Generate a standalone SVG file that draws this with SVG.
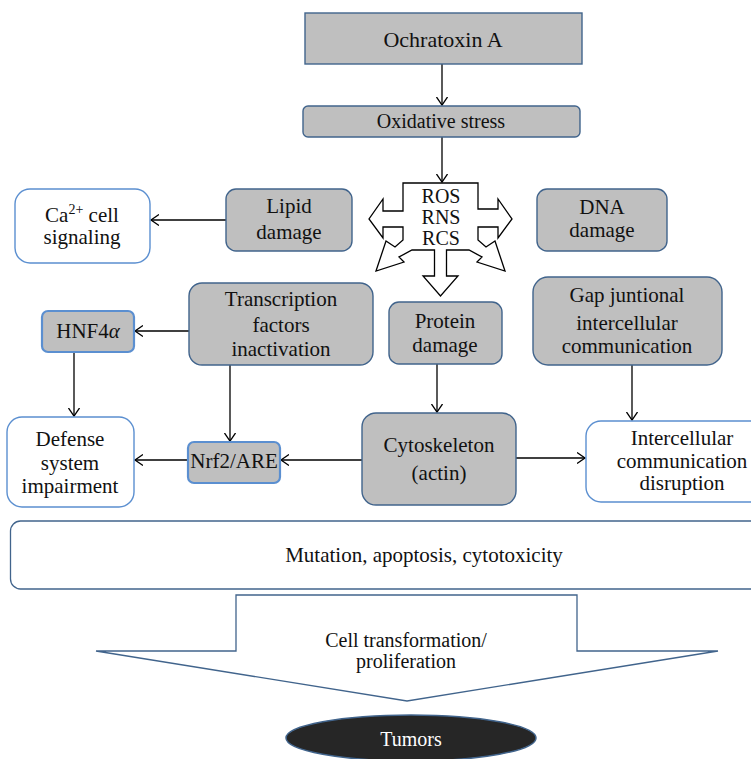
<svg xmlns="http://www.w3.org/2000/svg" width="751" height="759" viewBox="0 0 751 759" font-family="'Liberation Serif', 'Times New Roman', serif">
<defs>
<marker id="ah" markerUnits="userSpaceOnUse" markerWidth="10" markerHeight="12" refX="8" refY="6" orient="auto">
<path d="M0,0.5 L8,6 L0,11.5" fill="none" stroke="#000" stroke-width="1.3"/>
</marker>
<style>
text{font-family:'Liberation Serif','Times New Roman',serif;font-size:21px;fill:#111;text-anchor:middle}
.g{fill:#bfbfbf;stroke:#41648c;stroke-width:1.4}
.w{fill:#fff;stroke:#5b8fd0;stroke-width:1.4}
.gl{fill:#bfbfbf;stroke:#5b8fd0;stroke-width:2.2}
.c{fill:none;stroke:#000;stroke-width:1.3;marker-end:url(#ah)}
</style>
</defs>
<rect width="751" height="759" fill="#fff"/>

<g id="connectors">
<line class="c" x1="442" y1="64" x2="442" y2="105"/>
<line class="c" x1="442" y1="137" x2="442" y2="182"/>
<line class="c" x1="226" y1="220" x2="151" y2="220"/>
<line class="c" x1="189" y1="331" x2="135" y2="331"/>
<line class="c" x1="74" y1="352" x2="74" y2="416"/>
<line class="c" x1="230" y1="365" x2="230" y2="441"/>
<line class="c" x1="437" y1="364" x2="437" y2="412"/>
<line class="c" x1="632" y1="365" x2="632" y2="420"/>
<line class="c" x1="188" y1="460" x2="135" y2="460"/>
<line class="c" x1="362" y1="460" x2="281" y2="460"/>
<line class="c" x1="516" y1="458" x2="585" y2="458"/>
</g>

<g id="ochratoxin">
<rect class="g" x="305" y="13" width="277" height="51"/>
<text x="443" y="47" font-family="Liberation Serif, serif" style="font-size:22px">Ochratoxin A</text>
</g>

<g id="oxidative">
<rect class="g" x="303" y="106" width="277" height="31" rx="5"/>
<text x="441" y="128" font-family="Liberation Serif, serif" style="font-size:20px">Oxidative stress</text>
</g>

<g id="ros">
<polygon points="403,183 478,183 478,209 498,209 498,199 512,219 498,238 498,227 478,227 478,240 486,247 495,241 505,271 477,262 482,257 469,250 446.5,250 446.5,276 458,276 440.5,296 423,276 434.5,276 434.5,250 412,250 399,257 404,262 376,271 386,241 395,247 403,240 403,227 383,227 383,238 369,219 383,199 383,211 403,211" fill="#fff" stroke="#000" stroke-width="1.3"/>
<text x="441" y="203" font-family="Liberation Serif, serif" style="font-size:20px">ROS</text>
<text x="441" y="224" font-family="Liberation Serif, serif" style="font-size:20px">RNS</text>
<text x="441" y="245" font-family="Liberation Serif, serif" style="font-size:20px">RCS</text>
</g>

<g id="lipid">
<rect class="g" x="226" y="189" width="126" height="62" rx="10"/>
<text x="289" y="213" font-family="Liberation Serif, serif">Lipid</text>
<text x="289" y="239" font-family="Liberation Serif, serif">damage</text>
</g>

<g id="calcium">
<rect class="w" x="15" y="189" width="135" height="74" rx="15"/>
<text x="82" y="222" font-family="Liberation Serif, serif">Ca<tspan dy="-8" style="font-size:14px">2+</tspan><tspan dy="8"> cell</tspan></text>
<text x="82" y="244" font-family="Liberation Serif, serif">signaling</text>
</g>

<g id="dna">
<rect class="g" x="537" y="189" width="130" height="62" rx="10"/>
<text x="602" y="214" font-family="Liberation Serif, serif">DNA</text>
<text x="602" y="237" font-family="Liberation Serif, serif">damage</text>
</g>

<g id="hnf4a">
<rect class="gl" x="42" y="311" width="92" height="41" rx="6"/>
<text x="88" y="338" font-family="Liberation Serif, serif">HNF4<tspan font-style="italic">α</tspan></text>
</g>

<g id="transcription">
<rect class="g" x="189" y="283" width="184" height="82" rx="13"/>
<text x="281" y="306" font-family="Liberation Serif, serif">Transcription</text>
<text x="281" y="332" font-family="Liberation Serif, serif">factors</text>
<text x="281" y="356" font-family="Liberation Serif, serif">inactivation</text>
</g>

<g id="protein">
<rect class="g" x="389" y="302" width="113" height="62" rx="10"/>
<text x="445" y="328" font-family="Liberation Serif, serif">Protein</text>
<text x="445" y="352" font-family="Liberation Serif, serif">damage</text>
</g>

<g id="gap">
<rect class="g" x="533" y="277" width="189" height="88" rx="15"/>
<text x="627" y="302" font-family="Liberation Serif, serif">Gap juntional</text>
<text x="627" y="330" font-family="Liberation Serif, serif">intercellular</text>
<text x="627" y="353" font-family="Liberation Serif, serif">communication</text>
</g>

<g id="defense">
<rect class="w" x="7" y="417" width="127" height="90" rx="15"/>
<text x="70" y="446" font-family="Liberation Serif, serif">Defense</text>
<text x="70" y="470" font-family="Liberation Serif, serif">system</text>
<text x="70" y="493" font-family="Liberation Serif, serif">impairment</text>
</g>

<g id="nrf2">
<rect class="gl" x="188" y="442" width="92" height="41" rx="6"/>
<text x="234" y="468" font-family="Liberation Serif, serif">Nrf2/ARE</text>
</g>

<g id="cytoskeleton">
<rect class="g" x="362" y="413" width="154" height="92" rx="14"/>
<text x="439" y="452" font-family="Liberation Serif, serif">Cytoskeleton</text>
<text x="439" y="480" font-family="Liberation Serif, serif">(actin)</text>
</g>

<g id="intercellular">
<rect class="w" x="586" y="421" width="192" height="81" rx="15"/>
<text x="682" y="445" font-family="Liberation Serif, serif">Intercellular</text>
<text x="682" y="468" font-family="Liberation Serif, serif">communication</text>
<text x="682" y="490" font-family="Liberation Serif, serif">disruption</text>
</g>

<g id="mutation">
<rect x="10.5" y="521" width="760" height="68" rx="10" fill="#fff" stroke="#41648c" stroke-width="1.3"/>
<text x="424" y="562" font-family="Liberation Serif, serif">Mutation, apoptosis, cytotoxicity</text>
</g>

<g id="transformation">
<polygon points="236,595 577,595 577,651 718,651 407,701 96,651 236,651" fill="#fff" stroke="#41648c" stroke-width="1.3"/>
<text x="406" y="647" font-family="Liberation Serif, serif" style="font-size:20px">Cell transformation/</text>
<text x="406" y="668" font-family="Liberation Serif, serif" style="font-size:20px">proliferation</text>
</g>

<g id="tumors">
<ellipse cx="411" cy="738" rx="125" ry="23" fill="#262626" stroke="#41648c" stroke-width="1.5"/>
<text x="411" y="746" font-family="Liberation Serif, serif" style="fill:#fff;font-size:20px">Tumors</text>
</g>
</svg>
